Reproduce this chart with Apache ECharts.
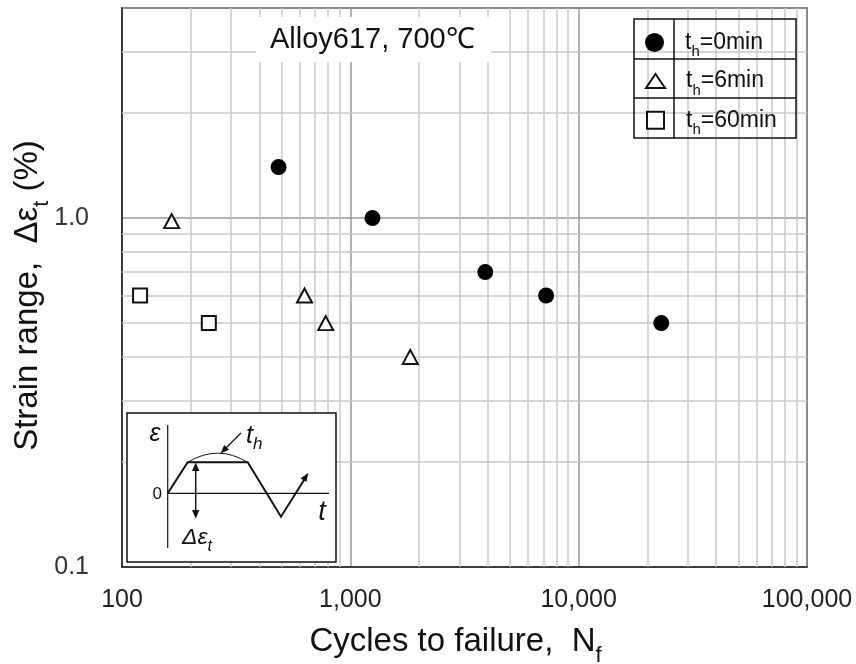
<!DOCTYPE html>
<html><head><meta charset="utf-8">
<script src="https://cdn.jsdelivr.net/npm/echarts@6/dist/echarts.min.js"></script>
<style>html,body{margin:0;padding:0;background:#fff}#c{width:856px;height:664px}</style>
</head><body><div id="c"></div>
<script>
// ---- data ----
const seriesNames = ['th=0min', 'th=6min', 'th=60min'];
const legendSuffix = ['=0min', '=6min', '=60min'];
const cycles0 = [485, 1250, 3900, 7200, 23000];
const strain0 = [1.4, 1.0, 0.7, 0.6, 0.5];
const cycles6 = [165, 630, 780, 1830];
const strain6 = [0.98, 0.6, 0.5, 0.4];
const cycles60 = [120, 240];
const strain60 = [0.6, 0.5];
const xTickValues = [100, 1000, 10000, 100000];
const xTickLabels = ['100', '1,000', '10,000', '100,000'];
const yTickValues = [0.1, 1];
const yTickLabels = ['0.1', '1.0'];
const xMinorGrid = [200, 300, 400, 500, 600, 700, 800, 900,
  2000, 3000, 4000, 5000, 6000, 7000, 8000, 9000,
  20000, 30000, 40000, 50000, 60000, 70000, 80000, 90000];
const yMinorGrid = [0.2, 0.3, 0.4, 0.5, 0.6, 0.7, 0.8, 0.9, 2, 3];
const titleText = 'Alloy617, 700\u2103';

// ---- helpers ----
const FF = '"Liberation Sans", Arial, sans-serif';
function pair(xs, ys) { return xs.map((x, i) => [x, ys[i]]); }
function tickLabel(values, labels) {
  return function (v) {
    const i = values.findIndex(t => Math.abs(t - v) / t < 1e-6);
    return i >= 0 ? labels[i] : '';
  };
}
const chart = echarts.init(document.getElementById('c'), null, {renderer: 'canvas'});

// legend layout (one legend per row of the table)
const legendTops = [31, 69.5, 108.7];
const legendIconW = [19, 19, 17];
const legendIconH = [19, 14, 17];
const legends = seriesNames.map((n, i) => {
  const left = 654.5 - legendIconW[i] / 2;
  const pad = 685 - (left + legendIconW[i] + 5);
  return {
    data: [n], left: left, top: legendTops[i], padding: 0,
    itemWidth: legendIconW[i], itemHeight: legendIconH[i], selectedMode: false,
    formatter: () => '{f|t}{s|h}{m|' + legendSuffix[i] + '}',
    textStyle: {rich: {
      f: {fontSize: 23, fontFamily: FF, color: '#111', lineHeight: 34, verticalAlign: 'middle', padding: [0, 0, 0, pad]},
      m: {fontSize: 23, fontFamily: FF, color: '#111', lineHeight: 34, verticalAlign: 'middle'},
      s: {fontSize: 15, fontFamily: FF, color: '#111', lineHeight: 16, verticalAlign: 'bottom'}
    }}
  };
});

const lineGray = {color: '#c9c9c9', width: 1.5, type: 'solid'};
const gridLineData = xMinorGrid.map(v => ({xAxis: v})).concat(yMinorGrid.map(v => ({yAxis: v})));

const stroke = {stroke: '#111', lineWidth: 2, fill: null};
const graphics = [
  // legend table
  {type: 'rect', shape: {x: 634, y: 19, width: 162, height: 119}, style: {fill: null, stroke: '#111', lineWidth: 1.5}, z: 100},
  {type: 'line', shape: {x1: 634, y1: 59, x2: 796, y2: 59}, style: {stroke: '#111', lineWidth: 1.5}, z: 100},
  {type: 'line', shape: {x1: 634, y1: 98, x2: 796, y2: 98}, style: {stroke: '#111', lineWidth: 1.5}, z: 100},
  {type: 'line', shape: {x1: 674, y1: 19, x2: 674, y2: 138}, style: {stroke: '#111', lineWidth: 1.5}, z: 100},
  // inset
  {type: 'rect', shape: {x: 127, y: 413, width: 209, height: 149}, style: {fill: '#fff', stroke: '#111', lineWidth: 1.5}, z: 100},
  {type: 'line', shape: {x1: 167.7, y1: 425, x2: 167.7, y2: 548}, style: {stroke: '#111', lineWidth: 1.2}, z: 101},
  {type: 'line', shape: {x1: 167.7, y1: 493.3, x2: 329, y2: 493.3}, style: {stroke: '#111', lineWidth: 1.2}, z: 101},
  {type: 'polyline', shape: {points: [[167.7, 493.3], [187.7, 462.3], [247.7, 462.3], [281, 516.7], [304, 480]]}, style: stroke, z: 101},
  {type: 'polygon', shape: {points: [[308.3, 472.7], [306.5, 482.1], [300.6, 478.5]]}, style: {fill: '#111'}, z: 101},
  {type: 'bezierCurve', shape: {x1: 187.7, y1: 462.3, x2: 247.7, y2: 462.3, cpx1: 217.7, cpy1: 444}, style: {stroke: '#111', lineWidth: 1, fill: null}, z: 101},
  {type: 'line', shape: {x1: 241, y1: 433, x2: 226, y2: 448}, style: {stroke: '#111', lineWidth: 1.2}, z: 101},
  {type: 'polygon', shape: {points: [[220.5, 453.5], [229.1, 449.8], [224.2, 444.9]]}, style: {fill: '#111'}, z: 101},
  {type: 'line', shape: {x1: 195.7, y1: 470, x2: 195.7, y2: 511}, style: {stroke: '#111', lineWidth: 1.5}, z: 101},
  {type: 'polygon', shape: {points: [[195.7, 462.5], [192, 471], [199.4, 471]]}, style: {fill: '#111'}, z: 101},
  {type: 'polygon', shape: {points: [[195.7, 518.5], [192, 510], [199.4, 510]]}, style: {fill: '#111'}, z: 101},
  {type: 'text', x: 155, y: 434, style: {text: '\u03b5', font: 'italic 25px ' + FF, fill: '#111', align: 'center', verticalAlign: 'middle'}, z: 101},
  {type: 'text', x: 162, y: 494, style: {text: '0', font: '17px ' + FF, fill: '#111', align: 'right', verticalAlign: 'middle'}, z: 101},
  {type: 'text', x: 322, y: 512, style: {text: 't', font: 'italic 27px ' + FF, fill: '#111', align: 'center', verticalAlign: 'middle'}, z: 101},
  {type: 'text', x: 246, y: 419, style: {text: '{m|t}{s|h}', fill: '#111', align: 'left', verticalAlign: 'top',
    rich: {m: {fontSize: 25, fontStyle: 'italic', fontFamily: FF, lineHeight: 34, verticalAlign: 'middle'},
           s: {fontSize: 17, fontStyle: 'italic', fontFamily: FF, lineHeight: 16, verticalAlign: 'bottom'}}}, z: 101},
  {type: 'text', x: 182, y: 521, style: {text: '{m|\u0394\u03b5}{s|t}', fill: '#111', align: 'left', verticalAlign: 'top',
    rich: {m: {fontSize: 23, fontStyle: 'italic', fontFamily: FF, lineHeight: 34, verticalAlign: 'middle'},
           s: {fontSize: 16, fontStyle: 'italic', fontFamily: FF, lineHeight: 16, verticalAlign: 'bottom'}}}, z: 101}
];

function nameRich(endPad) {
  return {
    m: {fontSize: 33, fontFamily: FF, color: '#111', lineHeight: 50, verticalAlign: 'middle'},
    s: {fontSize: 22, fontFamily: FF, color: '#111', lineHeight: 22, verticalAlign: 'bottom'},
    e: {fontSize: 33, fontFamily: FF, color: '#111', lineHeight: 50, verticalAlign: 'middle', padding: [0, endPad, 0, 0]},
    se: {fontSize: 22, fontFamily: FF, color: '#111', lineHeight: 22, verticalAlign: 'bottom', padding: [0, endPad, 0, 0]}
  };
}

const option = {
  animation: false,
  backgroundColor: '#fff',
  title: {
    text: titleText, left: 256, top: 17, padding: [8, 16, 8, 14],
    backgroundColor: '#fff',
    textStyle: {fontSize: 29, fontWeight: 'normal', fontFamily: FF, color: '#111'}
  },
  legend: legends,
  grid: {left: 122, right: 49, top: 8, bottom: 97, show: true, borderColor: '#222', borderWidth: 1.5,
    backgroundColor: '#fff', outerBoundsMode: 'none', containLabel: false},
  xAxis: {
    type: 'log', logBase: 10, min: 100, max: 100000,
    axisLine: {lineStyle: {color: '#222', width: 1.5}},
    axisTick: {show: false},
    splitLine: {show: true, lineStyle: {color: '#9a9a9a', width: 1.5}},
    axisLabel: {formatter: tickLabel(xTickValues, xTickLabels), fontSize: 25, fontFamily: FF, color: '#222', margin: 21,
      showMinLabel: true, showMaxLabel: true, hideOverlap: false},
    name: '{m|Cycles to failure,  N}{se|f}', nameLocation: 'middle', nameGap: 50, nameMoveOverlap: false,
    nameTextStyle: {rich: nameRich(18)}
  },
  yAxis: {
    type: 'log', logBase: 10, min: 0.1, max: 4,
    axisLine: {lineStyle: {color: '#222', width: 1.5}},
    axisTick: {show: false},
    splitLine: {show: true, lineStyle: {color: '#9a9a9a', width: 1.5}},
    axisLabel: {formatter: tickLabel(yTickValues, yTickLabels), fontSize: 25, fontFamily: FF, color: '#333', margin: 33},
    name: '{m|Strain range,  \u0394\u03b5}{s|t}{e| (%)}', nameLocation: 'middle', nameGap: 69, nameRotate: 90,
    nameMoveOverlap: false,
    nameTextStyle: {rich: nameRich(16)}
  },
  graphic: {elements: graphics},
  series: [
    {
      type: 'scatter', name: '__grid', data: [[1000, 1]], symbolSize: 0, silent: true, z: 1,
      markLine: {silent: true, z: 1, symbol: ['none', 'none'], label: {show: false}, lineStyle: lineGray, data: gridLineData, animation: false}
    },
    {type: 'scatter', name: seriesNames[0], data: pair(cycles0, strain0), symbol: 'circle', symbolSize: 16,
      itemStyle: {color: '#000', opacity: 1}, z: 5},
    {type: 'scatter', name: seriesNames[1], data: pair(cycles6, strain6), symbol: 'triangle', symbolSize: [15, 14],
      itemStyle: {color: '#fff', borderColor: '#111', borderWidth: 2, opacity: 1}, z: 5},
    {type: 'scatter', name: seriesNames[2], data: pair(cycles60, strain60), symbol: 'rect', symbolSize: 14,
      itemStyle: {color: '#fff', borderColor: '#111', borderWidth: 2, opacity: 1}, z: 5}
  ]
};
chart.setOption(option);
</script></body></html>
